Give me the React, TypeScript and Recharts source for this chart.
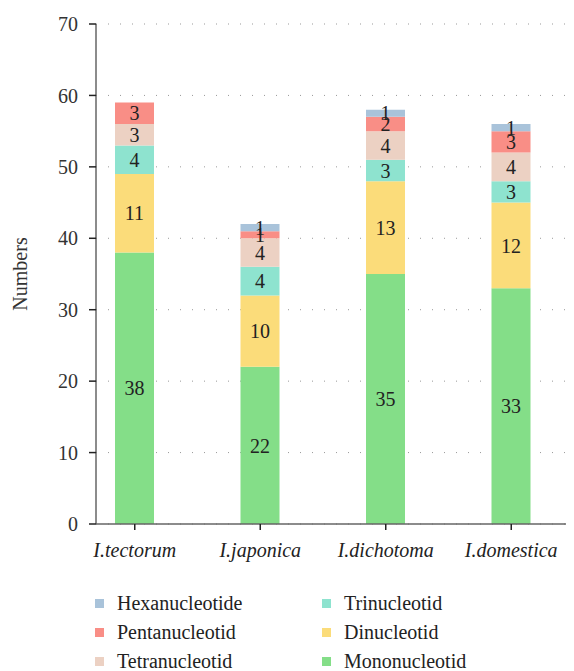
import React from 'react'
import { BarChart, Bar, XAxis, YAxis, CartesianGrid, Legend, LabelList } from 'recharts'

const species = ['I.tectorum', 'I.japonica', 'I.dichotoma', 'I.domestica']
const mono = [38, 22, 35, 33]
const di = [11, 10, 13, 12]
const tri = [4, 4, 3, 3]
const tetra = [3, 4, 4, 4]
const penta = [3, 1, 2, 3]
const hexa = [0, 1, 1, 1]
const yTicks = [0, 10, 20, 30, 40, 50, 60, 70]

const series = [
  { key: 'Mononucleotid', values: mono, color: '#84de88' },
  { key: 'Dinucleotid', values: di, color: '#fbdc7a' },
  { key: 'Trinucleotid', values: tri, color: '#8ee3cf' },
  { key: 'Tetranucleotid', values: tetra, color: '#ecd1c3' },
  { key: 'Pentanucleotid', values: penta, color: '#f98e86' },
  { key: 'Hexanucleotide', values: hexa, color: '#a9c3da' },
]

// legend is laid out column-major: hexa/penta/tetra, then tri/di/mono
const legendOrder = ['Hexanucleotide', 'Trinucleotid', 'Pentanucleotid', 'Dinucleotid', 'Tetranucleotid', 'Mononucleotid']

const data = species.map((name, i) => {
  const row: Record<string, string | number> = { name }
  series.forEach(s => { row[s.key] = s.values[i] })
  return row
})

const font = 'Liberation Serif'

const LegendContent = () => (
  <div style={{ display: 'grid', gridTemplateColumns: '227px 200px', paddingLeft: 87, paddingTop: 8, fontFamily: font, fontSize: 20, color: '#222' }}>
    {legendOrder.map(k => {
      const s = series.find(x => x.key === k)!
      return (
        <div key={k} style={{ display: 'flex', alignItems: 'center', height: 29 }}>
          <span style={{ width: 9, height: 9, background: s.color, marginRight: 13, display: 'inline-block' }} />
          {k}
        </div>
      )
    })}
  </div>
)

const hideZero = (v: any) => (v ? v : '')

export default function App() {
  return (
    <div style={{ fontFamily: font }}>
      <BarChart width={566} height={663} data={data} margin={{ top: 16, right: 0, bottom: 0, left: 0 }}>
        <CartesianGrid vertical={false} stroke="#999" strokeDasharray="1 11" />
        <XAxis
          dataKey="name"
          padding={{ left: -24, right: 0 }}
          height={57}
          axisLine={{ stroke: '#666', strokeWidth: 1.5 }}
          tickLine={{ stroke: '#222', strokeWidth: 1.5 }}
          tickSize={6}
          tickMargin={13}
          tick={{ fill: '#222', fontSize: 20, fontStyle: 'italic', fontFamily: font }}
        />
        <YAxis
          width={88}
          domain={[0, 70]}
          ticks={yTicks}
          axisLine={{ stroke: '#666', strokeWidth: 1.5 }}
          tickLine={{ stroke: '#222', strokeWidth: 1.5 }}
          tickSize={7}
          tickMargin={11}
          tick={{ fill: '#333', fontSize: 20, fontFamily: font }}
          label={{ value: 'Numbers', angle: -90, position: 'insideLeft', offset: 12, style: { fill: '#333', fontSize: 20, fontFamily: font, textAnchor: 'middle' } }}
        />
        <Legend verticalAlign="bottom" height={90} content={<LegendContent />} />
        {series.map(s => (
          <Bar key={s.key} dataKey={s.key} stackId="a" fill={s.color} barSize={39} isAnimationActive={false}>
            <LabelList dataKey={s.key} position="center" formatter={hideZero} style={{ fill: '#222', fontSize: 20, fontFamily: font }} />
          </Bar>
        ))}
      </BarChart>
    </div>
  )
}
